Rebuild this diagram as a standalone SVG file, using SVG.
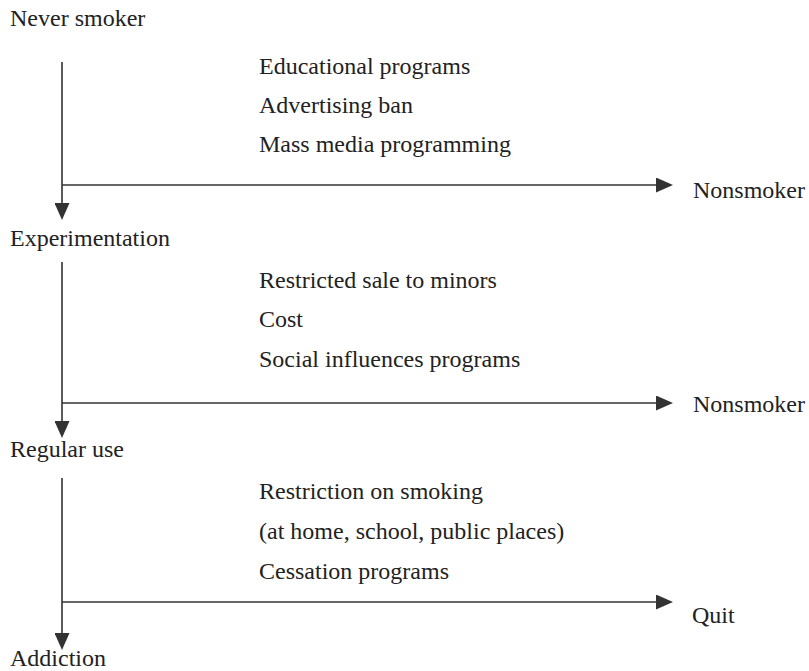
<svg xmlns="http://www.w3.org/2000/svg" width="809" height="671" viewBox="0 0 809 671">
<style>
  .t { font-family: "Liberation Serif", "Times New Roman", serif; font-size: 24px; fill: #222; }
  .c { stroke: #333; stroke-width: 1.6; fill: none; marker-end: url(#ah); }
</style>
<defs>
  <marker id="ah" viewBox="0 0 17 15" refX="0" refY="7.5" markerWidth="17" markerHeight="15" markerUnits="userSpaceOnUse" orient="auto">
    <path d="M0,0 L17,7.5 L0,15 Z" fill="#333"/>
  </marker>
</defs>
<rect width="809" height="671" fill="#fff"/>
<g id="connectors">
  <line class="c" x1="62" y1="62" x2="62" y2="203"/>
  <line class="c" x1="62" y1="185" x2="656" y2="185"/>
  <line class="c" x1="62" y1="262" x2="62" y2="421"/>
  <line class="c" x1="62" y1="403" x2="656" y2="403"/>
  <line class="c" x1="62" y1="478" x2="62" y2="633"/>
  <line class="c" x1="62" y1="602" x2="656" y2="602"/>
</g>
<g id="never-smoker"><text class="t" x="10" y="26">Never smoker</text></g>
<g id="interventions-1">
  <text class="t" x="259" y="74">Educational programs</text>
  <text class="t" x="259" y="113">Advertising ban</text>
  <text class="t" x="259" y="152">Mass media programming</text>
</g>
<g id="nonsmoker-1"><text class="t" x="693" y="198">Nonsmoker</text></g>
<g id="experimentation"><text class="t" x="10" y="246">Experimentation</text></g>
<g id="interventions-2">
  <text class="t" x="259" y="288">Restricted sale to minors</text>
  <text class="t" x="259" y="327">Cost</text>
  <text class="t" x="259" y="367">Social influences programs</text>
</g>
<g id="nonsmoker-2"><text class="t" x="693" y="412">Nonsmoker</text></g>
<g id="regular-use"><text class="t" x="10" y="457">Regular use</text></g>
<g id="interventions-3">
  <text class="t" x="259" y="499">Restriction on smoking</text>
  <text class="t" x="259" y="539">(at home, school, public places)</text>
  <text class="t" x="259" y="579">Cessation programs</text>
</g>
<g id="quit"><text class="t" x="692" y="623">Quit</text></g>
<g id="addiction"><text class="t" x="10" y="666">Addiction</text></g>
</svg>
